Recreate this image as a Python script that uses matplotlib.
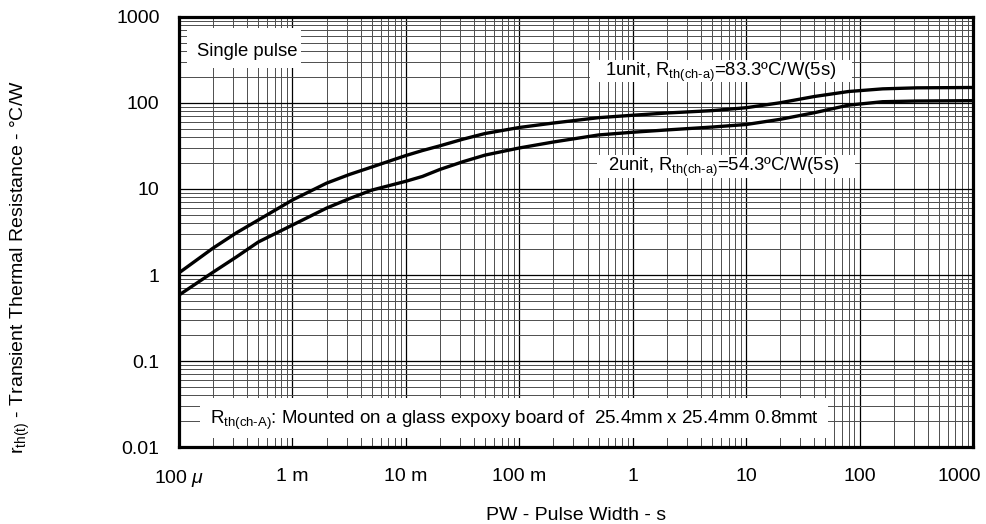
#!/usr/bin/env python3
"""Transient thermal resistance vs pulse width (single pulse)."""

import matplotlib
matplotlib.use("Agg")
import matplotlib.pyplot as plt
import matplotlib.transforms as mtransforms
from matplotlib.patches import Rectangle
from matplotlib.ticker import LogLocator, NullFormatter

plt.rcParams["font.family"] = ["Liberation Sans", "DejaVu Sans"]
plt.rcParams["mathtext.fontset"] = "custom"
plt.rcParams["mathtext.rm"] = "Liberation Sans"
plt.rcParams["mathtext.it"] = "Liberation Sans:italic"

# pulse width (s) and r_th(t) (degC/W)
pw = [1e-4, 2e-4, 3.2e-4, 5e-4, 1e-3, 2e-3, 3.2e-3, 5e-3, 1e-2, 1.4e-2,
      2e-2, 3.2e-2, 5e-2, 0.1, 0.2, 0.5, 1.0, 2.0, 5.0, 10, 20, 40, 80,
      160, 320, 1000]
rth_1unit = [1.06, 2.06, 3.09, 4.36, 7.45, 11.7, 14.8, 18.0, 24.5, 28.0,
             31.8, 38.0, 44.2, 51.9, 58.5, 67.5, 72.0, 76.5, 81.5, 88.1,
             100.7, 119, 136, 146, 150, 151.4]
rth_2unit = [0.585, 1.08, 1.62, 2.42, 3.81, 6.0, 7.76, 9.7, 12.3, 14.0,
             16.9, 20.8, 24.8, 30.0, 35.2, 42.5, 45.7, 48.6, 52.5, 56.2,
             64.6, 77.1, 94.4, 103.5, 105.4, 106.4]

xticks = [1e-4, 1e-3, 1e-2, 1e-1, 1, 10, 100, 1000]
xtick_labels = ["100 $\\mu$", "1 m", "10 m", "100 m", "1", "10", "100", "1000"]
yticks = [0.01, 0.1, 1, 10, 100, 1000]
ytick_labels = ["0.01", "0.1", "1", "10", "100", "1000"]

fig = plt.figure(figsize=(9.87, 5.24), dpi=100)
ax = fig.add_axes([0.1814, 0.1469, 0.8044, 0.8207])

ax.set_xscale("log")
ax.set_yscale("log")
ax.set_xlim(1e-4, 1000)
ax.set_ylim(0.01, 1000)

ax.xaxis.set_minor_locator(LogLocator(base=10, subs=range(2, 10), numticks=20))
ax.yaxis.set_minor_locator(LogLocator(base=10, subs=range(2, 10), numticks=20))
ax.xaxis.set_minor_formatter(NullFormatter())
ax.yaxis.set_minor_formatter(NullFormatter())
ax.set_xticks(xticks, xtick_labels)
ax.set_yticks(yticks, ytick_labels)
ax.tick_params(which="both", length=0, labelsize=14)
ax.tick_params(axis="x", pad=15)
ax.tick_params(axis="y", pad=14)

# last x label sits a bit left of its grid line in the reference
last = ax.get_xticklabels()[-1]
last.set_transform(last.get_transform() +
                   mtransforms.ScaledTranslation(-0.14, 0, fig.dpi_scale_trans))

ax.grid(True, which="major", color="black", linewidth=0.9)
ax.grid(True, which="minor", color="0.3", linewidth=0.7)
ax.set_axisbelow(True)
for sp in ax.spines.values():
    sp.set_linewidth(2.3)

ax.plot(pw, rth_1unit, color="black", linewidth=2.4, zorder=3)
ax.plot(pw, rth_2unit, color="black", linewidth=2.4, zorder=3)

# white label boxes covering the grid
boxes = [
    (0.010, 0.881, 0.144, 0.093),
    (0.518, 0.849, 0.330, 0.051),
    (0.526, 0.626, 0.325, 0.053),
    (0.026, 0.021, 0.791, 0.093),
]
for x0, y0, w, h in boxes:
    ax.add_patch(Rectangle((x0, y0), w, h, transform=ax.transAxes,
                           facecolor="white", edgecolor="none", zorder=2))

ax.text(0.0856, 0.919, "Single pulse", transform=ax.transAxes,
        ha="center", va="center", fontsize=13.3, zorder=4)
ax.text(0.6826, 0.872, "1unit, R$_{\\mathrm{th(ch\\text{-}a)}}$=83.3ºC/W(5s)",
        transform=ax.transAxes, ha="center", va="center", fontsize=13.3, zorder=4)
ax.text(0.6864, 0.650, "2unit, R$_{\\mathrm{th(ch\\text{-}a)}}$=54.3ºC/W(5s)",
        transform=ax.transAxes, ha="center", va="center", fontsize=13.3, zorder=4)
ax.text(0.423, 0.063,
        "R$_{\\mathrm{th(ch\\text{-}A)}}$: Mounted on a glass expoxy board of  25.4mm x 25.4mm 0.8mmt",
        transform=ax.transAxes, ha="center", va="center", fontsize=13.5, zorder=4)

ax.set_xlabel("PW - Pulse Width - s", fontsize=14)
ax.xaxis.set_label_coords(0.5, -0.1395)
ax.set_ylabel("r$_{\\mathrm{th(t)}}$ - Transient Thermal Resistance - °C/W",
              fontsize=14)
ax.yaxis.set_label_coords(-0.185, 0.419)

fig.savefig("out.png", dpi=100)
